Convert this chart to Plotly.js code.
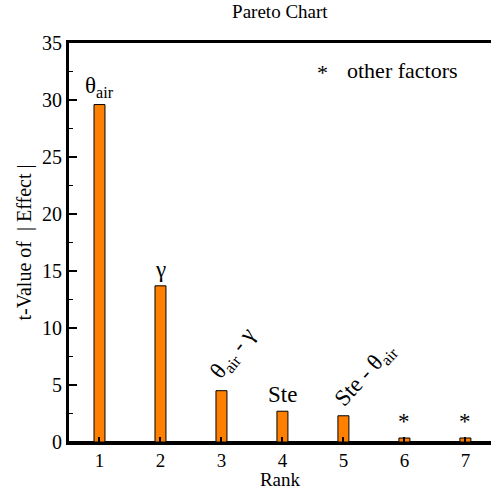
<!DOCTYPE html>
<html><head><meta charset="utf-8">
<script src="https://cdn.plot.ly/plotly-3.0.1.min.js"></script>
<style>html,body{margin:0;padding:0;background:#fff}</style>
</head><body><div id="chart" style="width:491px;height:490px"></div>
<script>
const ranks = [1, 2, 3, 4, 5, 6, 7];
const tValues = [29.6, 13.7, 4.5, 2.7, 2.3, 0.35, 0.35];
const labels = ['θ<sub>air</sub>', 'γ', 'θ<sub>air</sub> - γ', 'Ste', 'Ste - θ<sub>air</sub>', '*', '*'];
const labelAngles = [0, 0, -52, 0, -48, 0, 0];
const tickLabels = ['1', '2', '3', '4', '5', '6', '7'];

const font = 'Liberation Serif';
const annotations = ranks.map((r, i) => ({
  x: r, y: tValues[i], xref: 'x', yref: 'y',
  text: labels[i], showarrow: false, textangle: labelAngles[i],
  xanchor: 'center', yanchor: 'bottom',
  xshift: labelAngles[i] ? (i === 2 ? 12 : 22) : 0,
  yshift: labelAngles[i] ? (i === 2 ? 3 : 0) : 2,
  font: {family: font, size: 23, color: '#000'}
}));
annotations.push({xref: 'paper', yref: 'paper', x: 0.6, y: 0.925, text: '*', showarrow: false,
  xanchor: 'center', yanchor: 'middle', font: {family: font, size: 22, color: '#000'}});
annotations.push({xref: 'paper', yref: 'paper', x: 0.655, y: 0.93, text: 'other factors', showarrow: false,
  xanchor: 'left', yanchor: 'middle', font: {family: font, size: 22, color: '#000'}});

Plotly.newPlot('chart', [{
  type: 'bar', x: ranks, y: tValues, width: 0.18,
  marker: {color: '#FF8000', line: {color: '#000', width: 1}},
  hoverinfo: 'none'
}], {
  width: 491, height: 490,
  margin: {l: 69, r: 0, t: 43, b: 48},
  paper_bgcolor: '#fff', plot_bgcolor: '#fff',
  showlegend: false,
  font: {family: font, color: '#000'},
  title: {text: 'Pareto Chart', x: 0.57, xanchor: 'center', y: 0.99, yanchor: 'top',
    font: {family: font, size: 19, color: '#000'}},
  xaxis: {
    range: [0.5, 7.42], tickvals: ranks, ticktext: tickLabels,
    ticks: 'inside', ticklen: 5, tickwidth: 2, tickcolor: '#000',
    showline: true, linewidth: 3, linecolor: '#000', mirror: true,
    showgrid: false, zeroline: false, ticklabelstandoff: -1,
    tickfont: {family: font, size: 19, color: '#000'},
    title: {text: 'Rank', font: {family: font, size: 19, color: '#000'}, standoff: 1}
  },
  yaxis: {
    range: [0, 35], dtick: 5, tick0: 0,
    ticks: 'inside', ticklen: 8, tickwidth: 2, tickcolor: '#000',
    minor: {dtick: 2.5, ticks: 'inside', ticklen: 4, tickwidth: 1.5, tickcolor: '#000'},
    showline: true, linewidth: 3, linecolor: '#000',
    showgrid: false, zeroline: true, zerolinewidth: 2, zerolinecolor: '#000',
    tickfont: {family: font, size: 20, color: '#000'},
    title: {text: 't-Value of  | Effect |', font: {family: font, size: 20, color: '#000'}, standoff: 6}
  },
  annotations: annotations
}, {displayModeBar: false, staticPlot: true});
</script></body></html>
